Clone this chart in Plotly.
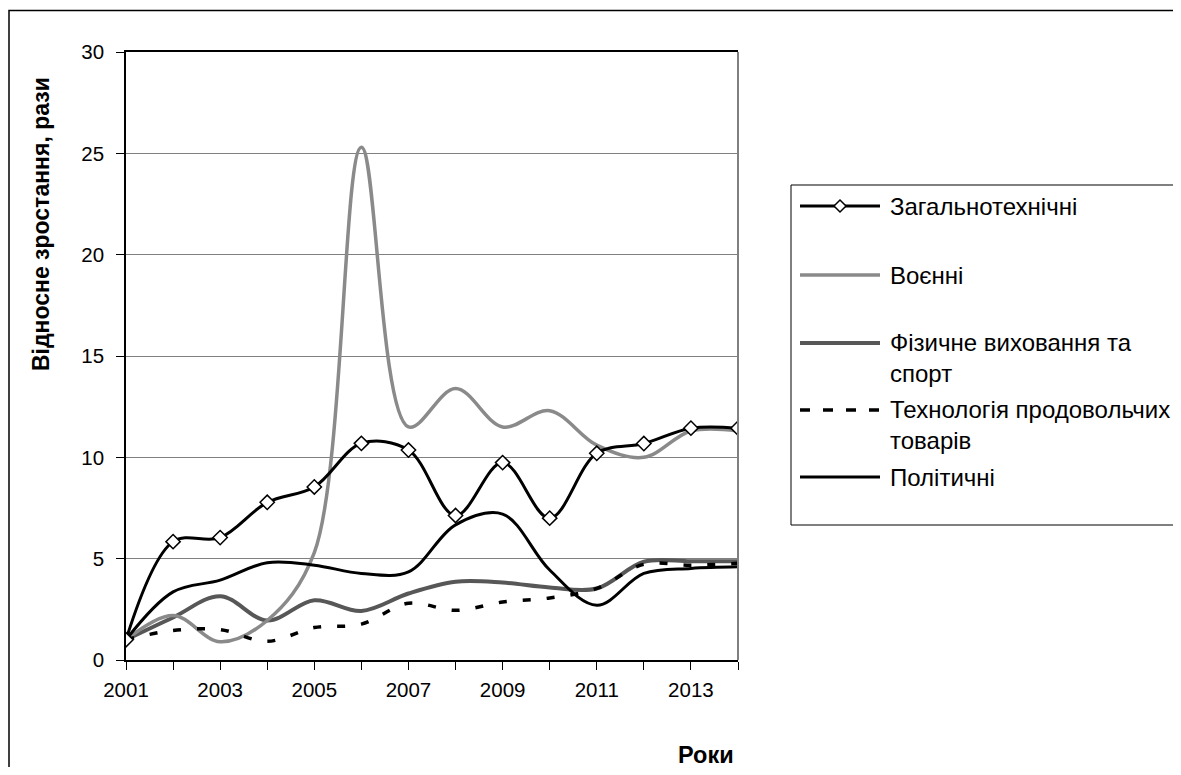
import plotly.graph_objects as go

# ---------------- data ----------------
years = list(range(2001, 2015))
tick_labels = ["2001", "", "2003", "", "2005", "", "2007", "", "2009", "", "2011", "", "2013", ""]

zagalnotekhnichni = [1.0, 5.84, 6.04, 7.78, 8.54, 10.69, 10.36, 7.13, 9.74, 7.0, 10.2, 10.68, 11.44, 11.44]
voienni = [1.0, 2.2, 0.9, 1.95, 5.3, 25.3, 11.5, 13.4, 11.5, 12.3, 10.6, 10.0, 11.3, 11.3]
fizychne = [1.0, 2.1, 3.15, 1.95, 2.95, 2.42, 3.28, 3.86, 3.82, 3.58, 3.53, 4.85, 4.87, 4.87]
tekhnolohiia = [1.0, 1.46, 1.5, 0.92, 1.6, 1.77, 2.8, 2.45, 2.86, 3.06, 3.53, 4.72, 4.68, 4.77]
politychni = [1.0, 3.36, 3.94, 4.8, 4.68, 4.27, 4.35, 6.67, 7.2, 4.44, 2.7, 4.27, 4.52, 4.6]

series_names = ["Загальнотехнічні", "Воєнні", "Фізичне виховання та<br>спорт",
                "Технологія продовольчих<br>товарів", "Політичні"]

y_title = "Відносне зростання, рази"
x_title = "Роки"

FONT = "Liberation Sans, Arial, sans-serif"

# ---------------- figure ----------------
# the page body has an 8px margin; the figure is sized to fit the window
OFF = 8
W, H = 1165, 759
ML, MT = 126 - OFF, 52 - OFF
PW, PH = 612, 608
MR = W - ML - PW
MB = H - MT - PH


def px(sx):
    """screen x (in the window) -> paper x"""
    return (sx - OFF - ML) / PW


def py(sy):
    """screen y (in the window) -> paper y"""
    return (MT + PH - (sy - OFF)) / PH


styles = {
    "zag": dict(color="black", width=3),
    "voen": dict(color="#8a8a8a", width=3.5),
    "fiz": dict(color="#575757", width=4),
    "tekh": dict(color="black", width=3.5, dash="8px,16px"),
    "pol": dict(color="black", width=3),
}

fig = go.Figure()


def add_line(y, name, st, markers=False):
    line = dict(st)
    line.update(shape="spline", smoothing=1.0)
    kw = dict(x=years, y=y, name=name.replace("<br>", " "), line=line,
              mode="lines", showlegend=False, hoverinfo="x+y+name")
    if markers:
        kw["mode"] = "lines+markers"
        kw["marker"] = dict(symbol="diamond", size=11, color="white",
                            line=dict(color="black", width=1.5))
    fig.add_trace(go.Scatter(**kw))


add_line(fizychne, series_names[2], styles["fiz"])
add_line(voienni, series_names[1], styles["voen"])
add_line(tekhnolohiia, series_names[3], styles["tekh"])
add_line(politychni, series_names[4], styles["pol"])
add_line(zagalnotekhnichni, series_names[0], styles["zag"], markers=True)

shapes = []
annotations = []

# outer frame
shapes.append(dict(type="rect", xref="paper", yref="paper",
                   x0=px(9), x1=px(1200), y0=py(10.5), y1=py(800),
                   line=dict(color="black", width=1.5), layer="below"))
# right plot border (gray)
shapes.append(dict(type="line", xref="paper", yref="paper",
                   x0=1, x1=1, y0=0, y1=1, line=dict(color="#808080", width=2)))

# legend box
shapes.append(dict(type="rect", xref="paper", yref="paper",
                   x0=px(791), x1=px(1200), y0=py(185), y1=py(525),
                   line=dict(color="black", width=1)))

legend_rows = [206, 275, 343, 410, 477]
legend_keys = ["zag", "voen", "fiz", "tekh", "pol"]
legend_lines = [1, 1, 2, 2, 1]
for yy, key, name, nl in zip(legend_rows, legend_keys, series_names, legend_lines):
    st = dict(styles[key])
    dash = st.pop("dash", None)
    ln = dict(color=st["color"], width=st["width"])
    if dash:
        ln["dash"] = "10px,13px"
    shapes.append(dict(type="line", xref="paper", yref="paper",
                       x0=px(800), x1=px(880), y0=py(yy), y1=py(yy), line=ln))
    text_center = yy + (nl - 1) * 15
    annotations.append(dict(xref="paper", yref="paper", x=px(888), y=py(text_center),
                            xanchor="left", yanchor="middle", align="left",
                            text=name, showarrow=False,
                            font=dict(family=FONT, size=24, color="black")))

# diamond marker in legend
shapes.append(dict(type="path", xref="paper", yref="paper",
                   xsizemode="pixel", ysizemode="pixel",
                   xanchor=px(840), yanchor=py(206),
                   path="M -6 0 L 0 6 L 6 0 L 0 -6 Z",
                   fillcolor="white", line=dict(color="black", width=1.5)))

# axis titles
annotations.append(dict(xref="paper", yref="paper", x=px(41), y=py(224),
                        text=y_title, textangle=-90, showarrow=False,
                        xanchor="center", yanchor="middle",
                        font=dict(family=FONT, size=23, color="black", weight="bold")))
annotations.append(dict(xref="paper", yref="paper", x=px(706), y=py(755),
                        text=x_title, showarrow=False,
                        xanchor="center", yanchor="middle",
                        font=dict(family=FONT, size=23.5, color="black", weight="bold")))

fig.update_layout(
    width=W, height=H,
    margin=dict(l=ML, r=MR, t=MT, b=MB, autoexpand=False),
    paper_bgcolor="white", plot_bgcolor="white",
    font=dict(family=FONT, size=20, color="black"),
    showlegend=False,
    shapes=shapes,
    annotations=annotations,
    xaxis=dict(range=[2001, 2014], tickmode="array", tickvals=years, ticktext=tick_labels,
               showgrid=False, zeroline=False, showline=True, linecolor="black", linewidth=1.5,
               mirror=True, ticks="outside", ticklen=8, tickcolor="black", tickwidth=1,
               tickfont=dict(family=FONT, size=20.5, color="black"), ticklabelstandoff=3),
    yaxis=dict(range=[0, 30], dtick=5, tick0=0, showgrid=True, gridcolor="#808080", gridwidth=1,
               zeroline=False, showline=True, linecolor="black", linewidth=1.5,
               ticks="outside", ticklen=8, tickcolor="black", tickwidth=1,
               tickfont=dict(family=FONT, size=20.5, color="black"), ticklabelstandoff=8),
)

fig.write_html("out.html")
